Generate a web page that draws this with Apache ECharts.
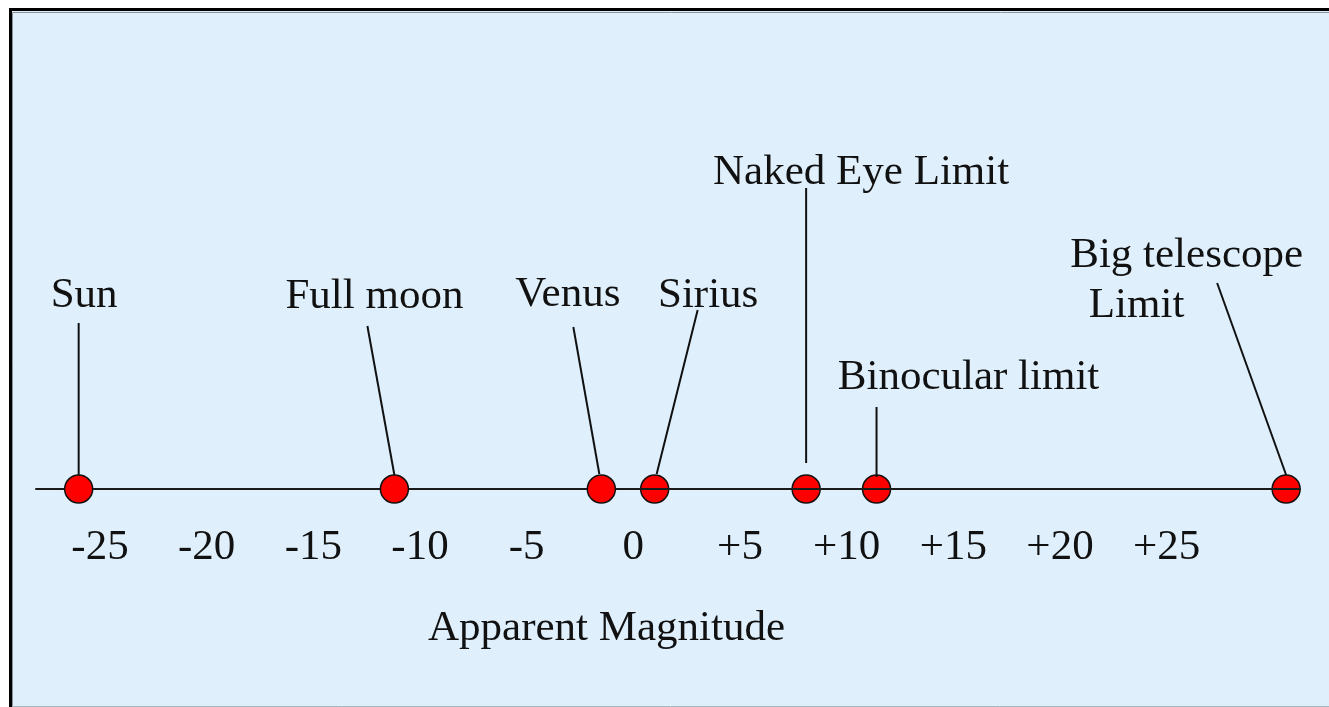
<!DOCTYPE html>
<html>
<head>
<meta charset="utf-8">
<script src="https://cdn.jsdelivr.net/npm/echarts@6/dist/echarts.min.js"></script>
<style>
  html, body { margin: 0; padding: 0; background: #ffffff; }
  #chart { width: 1329px; height: 707px; }
</style>
</head>
<body>
<div id="chart"></div>
<script>
// ---- data ----
const objects = ['Sun', 'Full moon', 'Venus', 'Sirius', 'Naked Eye Limit', 'Binocular limit', 'Big telescope\nLimit'];
const magnitudes = [-26.0, -11.2, -1.5, 1.0, 8.1, 11.4, 30.6];
const tickValues = [-25, -20, -15, -10, -5, 0, 5, 10, 15, 20, 25];
const tickLabels = ['-25', '-20', '-15', '-10', '-5', '0', '+5', '+10', '+15', '+20', '+25'];
const axisTitle = 'Apparent Magnitude';

// ---- layout (pixel offsets relative to each dot centre) ----
// line: [bottom point, top point]; text: one [centre dx, baseline dy] per text line
const labelLayout = [
  { line: [[0, -14], [0, -166]],  text: [[5.5, -180]] },
  { line: [[0, -14], [-27, -163]], text: [[-20, -179]] },
  { line: [[-2, -15], [-28, -162]], text: [[-33.5, -181]] },
  { line: [[2, -15], [43, -179]],  text: [[53.5, -180]] },
  { line: [[0, -26], [0, -301]],   text: [[55, -303]] },
  { line: [[0, -12], [0, -82]],    text: [[92, -98]] },
  { line: [[0, -14], [-69, -206]], text: [[-99.5, -220], [-149.5, -170]] }
];
const dotAboveLine = [true, true, true, false, false, false, false];

const FONT = '"Liberation Serif", "DejaVu Serif", serif';
const FS = 43;
const BASE_TO_MIDDLE = 13;

const chart = echarts.init(document.getElementById('chart'), null, { renderer: 'canvas' });

const dotData = magnitudes.map((m, i) => ({ value: [m, 0], name: objects[i] }));

chart.setOption({
  animation: false,
  backgroundColor: '#ffffff',
  graphic: [
    { type: 'rect', z: -10, shape: { x: 10.5, y: 9.5, width: 1340, height: 710 },
      style: { fill: '#dff0fc', stroke: '#000000', lineWidth: 3 } },
    { type: 'polyline', z: -9, shape: { points: [[12.5, 720], [12.5, 12.5], [1340, 12.5]] },
      style: { stroke: '#8a949c', lineWidth: 1, fill: null } },
    { type: 'line', z: -9, shape: { x1: 12, y1: 706.5, x2: 1329, y2: 706.5 },
      style: { stroke: '#a9b6c2', lineWidth: 1 } }
  ],
  title: {
    text: axisTitle,
    left: 428,
    top: 607,
    padding: 0,
    textStyle: { fontFamily: FONT, fontSize: FS, fontWeight: 'normal', color: '#111111' }
  },
  grid: { left: 36, right: 29, top: 100, bottom: 218, containLabel: false },
  xAxis: {
    type: 'value',
    min: -28,
    max: 31.25,
    z: 3,
    axisLine: { show: true, lineStyle: { color: '#1a1a1a', width: 2 } },
    axisTick: { show: false },
    splitLine: { show: false },
    axisLabel: {
      customValues: tickValues,
      formatter: (v) => tickLabels[tickValues.indexOf(v)],
      fontFamily: FONT,
      fontSize: FS,
      color: '#111111',
      margin: 37
    }
  },
  yAxis: { type: 'value', min: 0, max: 1, show: false },
  series: [
    {
      type: 'scatter',
      z: 2,
      symbol: 'circle',
      symbolSize: 28,
      itemStyle: { color: '#ff0000', borderColor: '#111111', borderWidth: 1.5, opacity: 1 },
      data: dotData.filter((d, i) => !dotAboveLine[i])
    },
    {
      type: 'scatter',
      z: 4,
      symbol: 'circle',
      symbolSize: 28,
      itemStyle: { color: '#ff0000', borderColor: '#111111', borderWidth: 1.5, opacity: 1 },
      data: dotData.filter((d, i) => dotAboveLine[i])
    },
    {
      type: 'custom',
      z: 5,
      data: magnitudes.map((m, i) => [m, 0, i]),
      renderItem: function (params, api) {
        const i = api.value(2);
        const p = api.coord([api.value(0), api.value(1)]);
        const L = labelLayout[i];
        const lines = objects[i].split('\n');
        const children = [{
          type: 'line',
          shape: { x1: p[0] + L.line[0][0], y1: p[1] + L.line[0][1], x2: p[0] + L.line[1][0], y2: p[1] + L.line[1][1] },
          style: { stroke: '#111111', lineWidth: 2 }
        }];
        lines.forEach((t, k) => {
          children.push({
            type: 'text',
            x: p[0] + L.text[k][0],
            y: p[1] + L.text[k][1] - BASE_TO_MIDDLE,
            style: { text: t, fontFamily: FONT, fontSize: FS, fill: '#111111', align: 'center', verticalAlign: 'middle' }
          });
        });
        return { type: 'group', children: children };
      }
    }
  ]
});
</script>
</body>
</html>
